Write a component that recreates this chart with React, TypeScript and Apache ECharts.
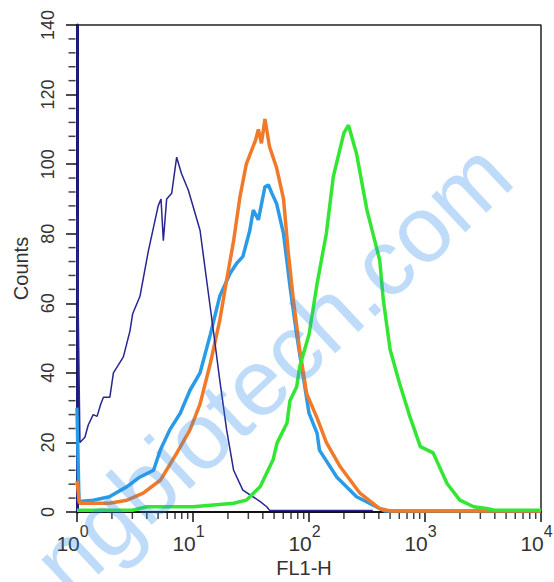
import React, { useEffect, useRef } from "react";
import * as echarts from "echarts";

// FL1-H (log scale) vs Counts
const navyData: [number, number][] = [
  [1, 85], [1.06, 20], [1.17, 21.5], [1.25, 25], [1.38, 28], [1.49, 27.5], [1.6, 31],
  [1.69, 33], [1.92, 33], [2.06, 40], [2.51, 44.6], [2.86, 52], [3.02, 57], [3.49, 62],
  [4.12, 75], [5.01, 88], [5.3, 90], [5.55, 78], [5.93, 90], [6.55, 91.6], [7.23, 102],
  [7.94, 97.4], [9.12, 92.5], [11.5, 81], [13.1, 66.7], [15.0, 52], [17.0, 38],
  [19.5, 23.6], [22.4, 12], [26.9, 6.3], [38.0, 3], [43.2, 1.5], [46, 0.4], [355, 0.4],
];

const lightBlueData: [number, number][] = [
  [1, 30], [1.04, 3], [1.38, 3.4], [1.9, 4.4], [2.7, 7.3], [3.47, 10], [4.57, 12],
  [5.25, 18], [6.3, 23.6], [7.76, 28.4], [9.42, 35], [11.5, 40], [14.1, 51], [17.0, 62],
  [20.9, 68.6], [23.8, 71.5], [26.9, 73.4], [30.9, 81], [33.1, 86.8], [36.6, 84],
  [41.7, 93.5], [44.7, 94], [47.9, 91.6], [52.5, 88.7], [60.3, 80], [68.5, 65],
  [78.3, 51], [89.1, 39], [100, 28.4], [117.5, 22.6], [123, 17.8], [174, 10],
  [257, 4.4], [380, 1.5], [447, 0.3], [10000, 0.3],
];

const orangeData: [number, number][] = [
  [1, 9], [1.05, 2.5], [1.2, 2.5], [1.9, 2.5], [2.7, 3.4], [3.72, 5.4], [5.25, 9.2],
  [7.24, 16.9], [9.42, 23.6], [11.5, 31], [14.1, 42.7], [17.0, 55], [19.5, 66.7],
  [22.4, 78], [25.4, 90.6], [28.8, 100], [34.7, 107], [36.6, 110], [38.9, 106],
  [41.7, 113], [45.7, 105], [52.5, 99], [60.3, 90], [66.1, 75], [73.3, 61], [83.2, 46.6],
  [95.5, 34], [117.5, 27], [141, 20], [186, 13], [275, 5.4], [407, 1], [501, 0.3],
  [10000, 0.3],
];

const greenData: [number, number][] = [
  [1, 0.5], [3, 0.5], [4, 1.5], [10, 1.5], [22.4, 2.5], [28.8, 3.4], [38, 7.3], [49, 15],
  [53, 19.8], [64.6, 25.6], [68.5, 32], [78.3, 36], [83.2, 41.8], [100, 51],
  [117.5, 65.7], [141, 80], [162, 96.4], [200, 109], [219, 111.2], [257, 103],
  [316, 86.8], [407, 72.4], [437, 61], [501, 46.6], [603, 37], [741, 27.4], [912, 18.8],
  [1175, 17], [1549, 8.2], [1995, 3.4], [2630, 1.5], [3388, 1], [4000, 0.5], [10000, 0.5],
];

const xMinorTickValues: number[] = [
  2, 3, 4, 5, 6, 7, 8, 9,
  20, 30, 40, 50, 60, 70, 80, 90,
  200, 300, 400, 500, 600, 700, 800, 900,
  2000, 3000, 4000, 5000, 6000, 7000, 8000, 9000,
];
const yMinorTickValues: number[] = [
  4, 8, 12, 16, 24, 28, 32, 36, 44, 48, 52, 56, 64, 68, 72, 76,
  84, 88, 92, 96, 104, 108, 112, 116, 124, 128, 132, 136,
];

const X_MIN = 1;
const X_MAX = 10000;
const Y_MIN = 0;
const Y_MAX = 140;

const xAxisTitle = "FL1-H";
const yAxisTitle = "Counts";
const watermarkText = "ngbiotech.com";

const FONT = "'Liberation Sans', Arial, sans-serif";

const GRID = { left: 77, top: 25, right: 13, bottom: 70 };

const boxStyle: React.CSSProperties = {
  position: "fixed",
  left: 0,
  top: 0,
  width: 554,
  height: 582,
};

export default function App() {
  const frameRef = useRef<HTMLDivElement>(null);
  const plotRef = useRef<HTMLDivElement>(null);

  useEffect(() => {
    if (!frameRef.current || !plotRef.current) return;

    // Layer 1: axes lines, ticks and plot frame
    const frameChart = echarts.init(frameRef.current, undefined, { renderer: "svg" });
    frameChart.setOption({
      animation: false,
      grid: { ...GRID },
      xAxis: {
        type: "log",
        logBase: 10,
        min: X_MIN,
        max: X_MAX,
        axisLine: { show: true, onZero: false, lineStyle: { color: "#111", width: 2 } },
        axisTick: { show: true, length: 10, lineStyle: { color: "#111", width: 1.5 } },
        axisLabel: { show: false },
        splitLine: { show: false },
      },
      yAxis: {
        type: "value",
        min: Y_MIN,
        max: Y_MAX,
        interval: 20,
        axisLine: { show: true, onZero: false, lineStyle: { color: "#1c1c78", width: 3 } },
        axisTick: { show: true, length: 11, lineStyle: { color: "#111", width: 1.5 } },
        axisLabel: { show: false },
        splitLine: { show: false },
      },
      series: [
        {
          type: "line",
          data: [[X_MIN, Y_MAX], [X_MAX, Y_MAX], [X_MAX, Y_MIN]],
          showSymbol: false,
          clip: false,
          lineStyle: { color: "#222", width: 1.5 },
        },
        {
          type: "scatter",
          data: xMinorTickValues.map((v) => [v, Y_MIN]),
          symbol: "rect",
          symbolSize: [1.5, 6],
          symbolOffset: [0, 4],
          clip: false,
          itemStyle: { color: "#111" },
        },
        {
          type: "scatter",
          data: yMinorTickValues.map((v) => [X_MIN, v]),
          symbol: "rect",
          symbolSize: [7, 1.5],
          symbolOffset: [-5, 0],
          clip: false,
          itemStyle: { color: "#111" },
        },
      ],
    });

    // Layer 2: data, labels, titles and watermark
    const plotChart = echarts.init(plotRef.current, undefined, { renderer: "svg" });
    const lineSeries = (data: [number, number][], color: string, width: number, z: number) => ({
      type: "line",
      data,
      showSymbol: false,
      symbol: "none",
      lineStyle: { color, width },
      z,
      silent: true,
    });
    plotChart.setOption({
      animation: false,
      backgroundColor: "transparent",
      grid: { ...GRID, outerBoundsMode: "none" },
      xAxis: {
        type: "log",
        logBase: 10,
        min: X_MIN,
        max: X_MAX,
        name: xAxisTitle,
        nameLocation: "middle",
        nameGap: 44,
        nameTextStyle: { fontSize: 20, color: "#333", fontFamily: FONT, padding: [0, 10, 0, 0] },
        axisLine: { show: false, onZero: false },
        axisTick: { show: false },
        minorTick: { show: false },
        splitLine: { show: false },
        axisLabel: {
          margin: 11,
          fontFamily: FONT,
          color: "#333",
          padding: [0, 9, 0, 0],
          formatter: (v: number) => `{b|10}{e|${Math.round(Math.log10(v))}}`,
          rich: {
            b: { fontSize: 21, color: "#333", fontFamily: FONT },
            e: { fontSize: 16, color: "#333", fontFamily: FONT, padding: [0, 0, 24, 0] },
          },
        },
      },
      yAxis: {
        type: "value",
        min: Y_MIN,
        max: Y_MAX,
        interval: 20,
        name: yAxisTitle,
        nameLocation: "middle",
        nameGap: 44,
        nameTextStyle: { fontSize: 20, color: "#333", fontFamily: FONT },
        axisLine: { show: false, onZero: false },
        axisTick: { show: false },
        minorTick: { show: false },
        splitLine: { show: false },
        axisLabel: { rotate: 90, margin: 20, fontSize: 18, color: "#333", fontFamily: FONT },
      },
      series: [
        lineSeries(lightBlueData, "#2a9be6", 3.5, 2),
        lineSeries(orangeData, "#f07a2a", 3.5, 3),
        lineSeries(navyData, "#28268f", 1.5, 4),
        lineSeries(greenData, "#33e633", 3.5, 5),
      ],
      graphic: [
        {
          type: "text",
          x: 272,
          y: 368,
          rotation: (43 * Math.PI) / 180,
          z: 100,
          silent: true,
          style: {
            text: watermarkText,
            font: `94px ${FONT}`,
            fill: "rgba(40,140,240,0.3)",
            textAlign: "center",
            textVerticalAlign: "middle",
            align: "center",
            verticalAlign: "middle",
          },
        },
      ],
    });

    return () => {
      plotChart.dispose();
      frameChart.dispose();
    };
  }, []);

  return (
    <div style={{ ...boxStyle, background: "#fff" }}>
      <div ref={frameRef} style={boxStyle} />
      <div ref={plotRef} style={boxStyle} />
    </div>
  );
}
